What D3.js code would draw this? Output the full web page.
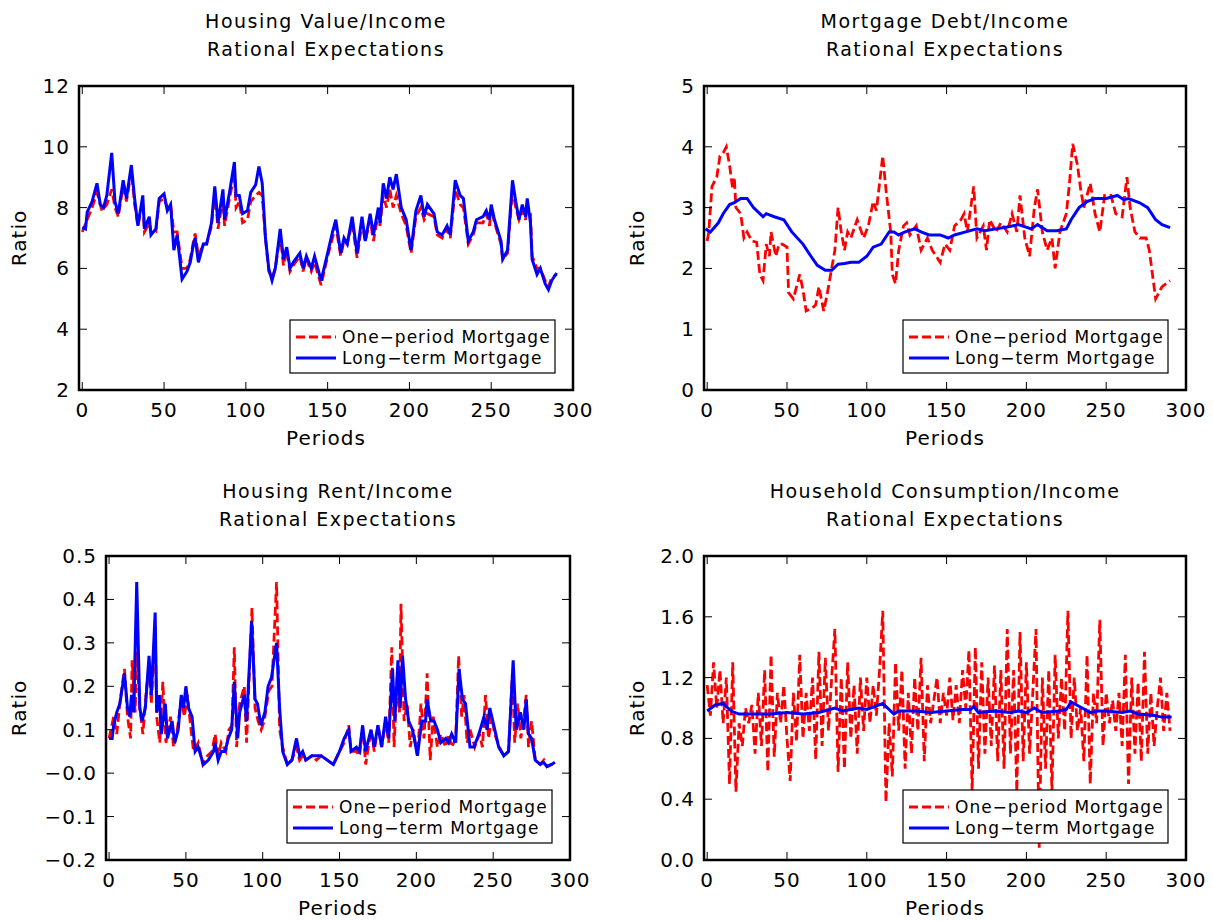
<!DOCTYPE html>
<html>
<head>
<meta charset="utf-8">
<script src="https://cdn.jsdelivr.net/npm/d3@7"></script>
<style>
  body { margin: 0; background: #fff; }
  text { font-family: "DejaVu Sans", sans-serif; fill: #000; }
</style>
</head>
<body>
<svg id="chart" width="1213" height="921"></svg>
<script>
// Housing value / income
var valueOne = [[0,7.2],[3,7.6],[6,8.0],[9,8.5],[12,7.9],[15,8.1],[18,8.6],[20,8.0],[22,7.7],[25,8.7],[27,8.2],[30,9.2],[32,8.1],[34,7.4],[37,8.2],[38,7.2],[41,7.5],[42,7.2],[45,7.2],[47,8.2],[50,8.3],[52,8.0],[54,8.1],[56,7.2],[58,7.2],[61,6.0],[64,6.0],[66,6.3],[68,6.9],[69,7.15],[71,6.4],[74,6.8],[76,6.8],[79,7.4],[81,8.5],[83,7.3],[86,8.3],[87,7.4],[90,8.3],[93,9.1],[94,8.0],[96,8.2],[98,7.5],[101,7.6],[103,8.2],[106,8.4],[108,8.5],[110,8.4],[112,7.0],[114,5.9],[116,5.7],[118,6.0],[121,7.1],[123,6.1],[125,6.6],[127,5.9],[129,6.1],[133,6.4],[135,5.9],[137,6.3],[140,5.9],[142,6.2],[146,5.45],[150,6.4],[153,7.0],[155,7.4],[158,6.4],[160,6.9],[162,6.8],[165,7.5],[168,6.35],[171,7.5],[173,6.9],[176,7.6],[178,6.9],[181,7.8],[182,7.4],[184,8.4],[186,8.0],[188,8.6],[190,8.0],[192,8.4],[195,7.8],[198,7.4],[201,6.5],[204,7.7],[207,8.0],[209,7.6],[211,7.8],[215,7.7],[217,7.1],[220,7.0],[223,7.3],[225,7.0],[228,8.6],[231,8.1],[233,8.0],[236,6.8],[239,7.1],[241,7.5],[245,7.5],[247,7.8],[249,7.4],[250,8.0],[252,7.5],[256,6.8],[257,6.3],[260,6.5],[263,8.6],[265,8.0],[267,7.6],[269,7.9],[271,7.6],[272,8.1],[274,7.8],[275,6.4],[278,6.0],[280,6.0],[283,5.6],[285,5.4],[287,5.7],[290,5.8]];
var valueLong = [[0,7.35],[2,7.3],[3,7.85],[6,8.2],[9,8.8],[11,8.1],[13,8.0],[15,8.4],[18,9.8],[20,8.2],[22,7.8],[25,8.9],[27,8.3],[30,9.4],[32,8.3],[34,7.4],[37,8.4],[38,7.3],[41,7.7],[42,7.1],[45,7.3],[47,8.3],[50,8.45],[52,7.9],[54,8.1],[56,6.6],[58,7.1],[61,5.65],[64,5.9],[66,6.2],[68,6.8],[69,7.0],[71,6.2],[74,6.8],[76,6.8],[79,7.5],[81,8.7],[83,7.5],[86,8.6],[87,7.6],[90,8.5],[93,9.5],[94,8.4],[96,8.4],[98,7.8],[101,7.9],[103,8.5],[106,8.75],[108,9.35],[110,8.8],[112,7.0],[114,6.0],[116,5.6],[118,6.0],[121,7.3],[123,6.3],[125,6.7],[127,6.0],[129,6.2],[133,6.5],[135,6.0],[137,6.4],[140,6.0],[142,6.4],[146,5.6],[150,6.5],[153,7.2],[155,7.6],[158,6.5],[160,7.0],[162,6.8],[165,7.7],[168,6.5],[171,7.7],[173,6.9],[176,7.8],[178,7.1],[181,8.0],[182,7.5],[184,8.8],[186,8.3],[188,9.0],[190,8.6],[192,9.1],[195,8.0],[198,7.6],[201,6.6],[204,7.9],[207,8.4],[209,7.7],[211,8.1],[215,7.8],[217,7.2],[220,7.1],[223,7.4],[225,7.1],[228,8.9],[231,8.4],[233,8.3],[236,6.9],[239,7.2],[241,7.6],[245,7.7],[247,7.9],[249,7.6],[250,8.1],[252,7.6],[256,6.9],[257,6.3],[260,6.6],[263,8.9],[265,8.2],[267,7.6],[269,8.1],[271,7.7],[272,8.3],[274,7.5],[275,6.3],[278,5.8],[280,6.0],[283,5.5],[285,5.3],[287,5.6],[290,5.85]];

// Mortgage debt / income
var debtOne = [[0,2.45],[1,2.6],[3,3.35],[6,3.5],[8,3.85],[10,3.9],[12,4.0],[14,3.7],[16,3.3],[17,3.5],[18,3.0],[21,2.9],[23,2.5],[25,2.6],[28,2.45],[31,2.43],[33,1.9],[35,1.8],[37,2.4],[39,2.2],[40,2.6],[43,2.2],[45,2.4],[47,2.4],[50,2.35],[51,1.6],[54,1.5],[58,1.9],[60,1.65],[62,1.3],[66,1.35],[68,1.4],[70,1.7],[73,1.3],[75,1.55],[78,2.0],[80,2.3],[82,3.0],[84,2.6],[86,2.3],[88,2.6],[90,2.5],[94,2.8],[96,2.65],[98,2.5],[101,2.7],[104,3.1],[106,2.95],[110,3.85],[112,3.3],[115,2.6],[116,1.9],[118,1.75],[120,2.3],[123,2.7],[125,2.75],[127,2.55],[131,2.7],[134,2.3],[138,2.5],[141,2.3],[146,2.1],[149,2.4],[152,2.3],[155,2.7],[159,2.8],[161,2.9],[163,2.6],[167,3.35],[169,2.5],[173,2.7],[175,2.3],[177,2.8],[181,2.6],[184,2.75],[188,2.6],[191,2.9],[194,2.6],[196,3.2],[199,2.5],[202,2.2],[205,3.0],[207,3.3],[210,2.6],[213,2.3],[216,2.5],[218,2.0],[221,2.6],[225,2.9],[227,3.4],[229,4.05],[232,3.7],[234,3.3],[236,3.0],[240,3.4],[243,2.9],[246,2.6],[249,3.2],[253,3.2],[256,2.9],[260,2.85],[263,3.5],[265,3.0],[268,2.6],[271,2.5],[275,2.5],[277,2.3],[281,1.5],[285,1.7],[290,1.8]];
var debtLong = [[-1,2.65],[2,2.6],[7,2.75],[10,2.9],[14,3.05],[17,3.08],[21,3.15],[25,3.15],[29,3.0],[35,2.85],[37,2.9],[42,2.85],[48,2.8],[53,2.6],[60,2.4],[65,2.2],[69,2.05],[74,1.97],[78,1.97],[82,2.07],[86,2.08],[90,2.1],[95,2.1],[100,2.2],[104,2.35],[109,2.4],[114,2.6],[117,2.6],[120,2.55],[124,2.6],[130,2.65],[134,2.6],[139,2.55],[146,2.55],[151,2.5],[155,2.55],[162,2.6],[169,2.65],[174,2.62],[181,2.65],[188,2.68],[195,2.72],[203,2.65],[207,2.72],[213,2.62],[219,2.62],[225,2.65],[228,2.8],[233,3.0],[238,3.1],[243,3.15],[250,3.15],[257,3.2],[261,3.13],[264,3.15],[271,3.08],[276,3.0],[281,2.8],[285,2.72],[290,2.67]];

// Housing rent / income
var rentOne = [[0,0.08],[3,0.13],[5,0.09],[7,0.16],[10,0.24],[12,0.13],[14,0.08],[15,0.26],[17,0.14],[18,0.28],[20,0.15],[22,0.09],[24,0.18],[26,0.25],[27.5,0.16],[30,0.34],[31,0.13],[33,0.07],[35,0.21],[37,0.07],[40,0.13],[42,0.06],[44,0.09],[47,0.17],[49,0.13],[51,0.18],[53,0.11],[55,0.05],[58,0.07],[61,0.02],[64,0.04],[67,0.05],[69,0.09],[71,0.04],[73,0.07],[76,0.05],[78,0.1],[80,0.11],[81.5,0.29],[83,0.06],[85,0.16],[88,0.2],[89.5,0.07],[93,0.38],[95,0.15],[97,0.12],[99,0.1],[101,0.12],[104,0.19],[106,0.2],[109,0.44],[111,0.1],[113,0.06],[116,0.02],[119,0.03],[122,0.06],[124,0.03],[126,0.04],[128,0.03],[132,0.04],[135,0.03],[138,0.04],[142,0.03],[146,0.02],[150,0.05],[153,0.07],[156,0.11],[157.5,0.05],[161,0.05],[163,0.04],[165,0.11],[167,0.02],[170.5,0.1],[172.6,0.05],[175,0.11],[177.4,0.06],[180,0.12],[182,0.07],[184,0.29],[185.5,0.06],[187.5,0.22],[189,0.14],[190,0.39],[192,0.12],[194,0.16],[196,0.06],[198,0.1],[200.7,0.04],[203,0.16],[205,0.08],[207,0.23],[209,0.03],[211,0.13],[213.7,0.06],[216,0.09],[219,0.06],[221,0.09],[223,0.06],[225.6,0.08],[227.5,0.27],[229.5,0.13],[231,0.18],[233,0.07],[235,0.1],[238,0.06],[241,0.09],[243,0.06],[245,0.18],[247,0.08],[249,0.13],[251,0.09],[254,0.06],[257,0.04],[260,0.05],[262.5,0.23],[264,0.07],[266,0.16],[268,0.08],[270,0.13],[271.5,0.18],[273,0.06],[275,0.12],[277.4,0.03],[280.6,0.02],[283,0.03],[285,0.015],[288,0.02],[290,0.02]];
var rentLong = [[0,0.08],[2,0.08],[3,0.11],[5,0.14],[7,0.16],[10,0.23],[12,0.15],[13.5,0.13],[14.6,0.18],[16,0.14],[18,0.44],[20,0.15],[21.5,0.12],[23.6,0.15],[26,0.27],[27.5,0.18],[30,0.37],[31,0.14],[32.7,0.18],[34,0.09],[36.6,0.16],[38,0.08],[41,0.12],[42.7,0.07],[45,0.1],[47,0.18],[48.5,0.15],[50,0.2],[51.7,0.15],[54,0.13],[56,0.05],[58,0.06],[61.4,0.02],[64.6,0.03],[68,0.05],[69,0.07],[71,0.03],[73,0.05],[75.5,0.05],[77.6,0.08],[79.8,0.1],[81.5,0.21],[83.7,0.08],[85,0.14],[88,0.18],[89.5,0.12],[92.8,0.35],[95,0.17],[96.6,0.16],[98.8,0.11],[101.4,0.14],[103.5,0.2],[105.7,0.22],[109,0.3],[111,0.15],[113,0.05],[116,0.02],[119,0.03],[122,0.08],[124,0.04],[126,0.05],[128,0.03],[132,0.04],[135,0.04],[138,0.04],[142,0.03],[146,0.02],[150,0.05],[153,0.08],[156,0.1],[157.5,0.05],[161,0.06],[163,0.05],[165,0.11],[167,0.05],[170.5,0.1],[172.6,0.06],[175,0.11],[177.4,0.06],[180,0.13],[182,0.08],[184.5,0.24],[186,0.12],[188,0.26],[189.5,0.15],[191,0.27],[193,0.17],[195,0.12],[197.5,0.1],[200.7,0.04],[203.5,0.12],[206,0.12],[207,0.17],[209.4,0.12],[211.5,0.12],[213.7,0.1],[215.9,0.07],[219,0.08],[221,0.07],[223,0.09],[225.6,0.07],[227.8,0.24],[230,0.17],[232,0.16],[234.9,0.06],[237.5,0.06],[240.7,0.09],[244,0.13],[246,0.1],[247.8,0.15],[250.4,0.11],[253.6,0.06],[256.9,0.04],[260,0.05],[263,0.26],[265,0.1],[267.7,0.14],[270,0.1],[271.5,0.17],[273,0.09],[275,0.08],[277.4,0.03],[280.6,0.02],[282.8,0.025],[285,0.015],[288,0.02],[290.2,0.025]];

// Household consumption / income
var consOne = [[0,1.15],[2,0.95],[4,1.3],[6,1.0],[8,1.25],[10,0.9],[12,1.2],[14,0.5],[16,1.3],[18,0.45],[20,0.9],[22,0.75],[24,1.0],[26,0.9],[28,1.02],[30,0.7],[32,1.1],[34,0.75],[36,1.25],[38,0.58],[40,1.35],[42,0.68],[44,1.1],[46,0.9],[48,1.15],[50,0.8],[52,0.52],[54,1.1],[56,0.78],[58,1.35],[60,0.8],[62,1.1],[64,0.85],[66,1.2],[68,0.66],[70,1.37],[72,0.75],[74,1.33],[76,0.85],[78,1.2],[80,1.52],[82,0.58],[84,1.2],[86,0.6],[88,1.3],[90,0.8],[92,1.15],[94,0.7],[96,1.2],[98,0.85],[100,1.2],[102,0.9],[104,1.15],[106,0.95],[108,1.25],[110,1.64],[112,0.38],[114,0.9],[116,0.55],[118,1.3],[120,0.85],[122,1.25],[124,0.6],[126,1.1],[128,0.7],[130,1.2],[132,0.85],[134,1.33],[136,0.65],[138,1.15],[140,0.9],[142,1.05],[144,1.2],[146,0.9],[148,1.1],[150,0.95],[152,1.2],[154,0.92],[156,1.15],[158,0.9],[160,1.25],[162,1.0],[164,1.38],[166,0.45],[168,1.4],[170,0.6],[172,1.3],[174,0.7],[176,1.2],[178,0.75],[180,1.28],[182,0.65],[184,1.25],[186,0.6],[188,1.52],[190,0.7],[192,1.25],[194,0.45],[196,1.5],[198,0.65],[200,1.3],[202,0.7],[204,1.1],[206,1.52],[208,0.08],[210,1.2],[212,0.6],[214,1.25],[216,0.45],[218,1.35],[220,0.8],[222,1.2],[224,0.85],[226,1.64],[228,0.8],[230,1.2],[232,0.85],[234,1.0],[236,0.65],[238,1.35],[240,0.5],[242,1.1],[244,0.9],[246,1.58],[248,0.75],[250,1.1],[252,0.9],[254,1.05],[256,0.85],[258,1.1],[260,0.75],[262,1.35],[264,0.5],[266,1.2],[268,0.7],[270,1.17],[272,0.65],[274,1.37],[276,0.7],[278,1.1],[280,0.75],[282,1.0],[284,1.2],[286,0.85],[288,1.1],[290,0.85]];
var consLong = [[0,0.98],[5,1.02],[10,1.03],[15,0.98],[20,0.96],[30,0.96],[40,0.96],[50,0.97],[60,0.96],[70,0.97],[80,1.0],[85,0.98],[95,1.0],[100,0.99],[105,1.01],[110,1.03],[113,1.0],[117,0.96],[120,0.98],[130,0.98],[140,0.97],[150,0.98],[160,0.99],[165,0.99],[167,1.01],[170,0.97],[180,0.98],[190,0.97],[195,0.98],[200,0.97],[205,1.0],[208,0.98],[210,0.97],[220,0.98],[225,0.99],[228,1.04],[235,1.0],[240,0.97],[245,0.98],[250,0.98],[260,0.97],[265,0.98],[270,0.96],[280,0.95],[285,0.94],[291,0.94]];

var xTicks = [0, 50, 100, 150, 200, 250, 300];
var legendNames = ["One\u2212period Mortgage", "Long\u2212term Mortgage"];

var panels = [
  { title: ["Housing Value/Income", "Rational Expectations"], box: [79, 86, 573, 390], ratioX: 19,
    y: [2, 12], yTicks: [2, 4, 6, 8, 10, 12], fmt: d3.format("d"), one: valueOne, long: valueLong },
  { title: ["Mortgage Debt/Income", "Rational Expectations"], box: [704, 86, 1186, 390], ratioX: 637,
    y: [0, 5], yTicks: [0, 1, 2, 3, 4, 5], fmt: d3.format("d"), one: debtOne, long: debtLong },
  { title: ["Housing Rent/Income", "Rational Expectations"], box: [106, 556, 570, 860], ratioX: 19,
    y: [-0.2, 0.5], yTicks: [-0.2, -0.1, 0, 0.1, 0.2, 0.3, 0.4, 0.5],
    fmt: function(d) { var s = Math.abs(d).toFixed(1); return (d < 0.05 ? "\u2212" : "") + s; }, one: rentOne, long: rentLong },
  { title: ["Household Consumption/Income", "Rational Expectations"], box: [704, 556, 1186, 860], ratioX: 637,
    y: [0, 2], yTicks: [0, 0.4, 0.8, 1.2, 1.6, 2.0], fmt: d3.format(".1f"), one: consOne, long: consLong }
];

var svg = d3.select("#chart");

panels.forEach(function(p) {
  var x0 = p.box[0], y0 = p.box[1], x1 = p.box[2], y1 = p.box[3];
  var x = d3.scaleLinear().domain([-2, 300]).range([x0, x1]);
  var y = d3.scaleLinear().domain(p.y).range([y1, y0]);
  var g = svg.append("g");
  var cx = (x0 + x1) / 2;

  g.selectAll(".title").data(p.title).enter().append("text")
    .attr("x", cx).attr("y", function(d, i) { return y0 - 58 + i * 28; })
    .attr("text-anchor", "middle").style("font-size", "19px").style("letter-spacing", "1.5px")
    .text(function(d) { return d; });

  var line = d3.line().x(function(d) { return x(d[0]); }).y(function(d) { return y(d[1]); });
  var clipId = "clip" + x0 + y0;
  g.append("clipPath").attr("id", clipId).append("rect")
    .attr("x", x0).attr("y", y0).attr("width", x1 - x0).attr("height", y1 - y0);

  g.append("path").datum(p.one).attr("d", line).attr("clip-path", "url(#" + clipId + ")")
    .attr("fill", "none").attr("stroke", "#ff0000").attr("stroke-width", 2.8)
    .attr("stroke-dasharray", "9,4");
  g.append("path").datum(p.long).attr("d", line).attr("clip-path", "url(#" + clipId + ")")
    .attr("fill", "none").attr("stroke", "#0000ff").attr("stroke-width", 3);

  // ticks, inward on all four sides
  var t = 8;
  xTicks.forEach(function(v) {
    g.append("line").attr("x1", x(v)).attr("x2", x(v)).attr("y1", y1).attr("y2", y1 - t).attr("stroke", "#000");
    g.append("line").attr("x1", x(v)).attr("x2", x(v)).attr("y1", y0).attr("y2", y0 + t).attr("stroke", "#000");
    g.append("text").attr("x", x(v)).attr("y", y1 + 27).attr("text-anchor", "middle")
      .style("font-size", "20px").style("letter-spacing", "1px").text(v);
  });
  p.yTicks.forEach(function(v) {
    g.append("line").attr("x1", x0).attr("x2", x0 + t).attr("y1", y(v)).attr("y2", y(v)).attr("stroke", "#000");
    g.append("line").attr("x1", x1).attr("x2", x1 - t).attr("y1", y(v)).attr("y2", y(v)).attr("stroke", "#000");
    g.append("text").attr("x", x0 - 9).attr("y", y(v) + 7).attr("text-anchor", "end")
      .style("font-size", "20px").style("letter-spacing", "1px").text(p.fmt(v));
  });

  g.append("rect").attr("x", x0).attr("y", y0).attr("width", x1 - x0).attr("height", y1 - y0)
    .attr("fill", "none").attr("stroke", "#000").attr("stroke-width", 2.5);

  g.append("text").attr("x", cx).attr("y", y1 + 55).attr("text-anchor", "middle")
    .style("font-size", "20px").style("letter-spacing", "1px").text("Periods");
  g.append("text").attr("transform", "translate(" + (p.ratioX + 7) + "," + ((y0 + y1) / 2) + ") rotate(-90)")
    .attr("text-anchor", "middle").style("font-size", "20px").style("letter-spacing", "1px").text("Ratio");

  // legend
  var lx1 = x1 - 18, lx0 = lx1 - 265, ly0 = y1 - 70, ly1 = y1 - 17;
  g.append("rect").attr("x", lx0).attr("y", ly0).attr("width", lx1 - lx0).attr("height", ly1 - ly0)
    .attr("fill", "#fff").attr("stroke", "#000").attr("stroke-width", 1.2);
  [["#ff0000", "9,4", 2.8], ["#0000ff", null, 3]].forEach(function(s, i) {
    var ly = ly0 + 17 + i * 21;
    g.append("line").attr("x1", lx0 + 6).attr("x2", lx0 + 46).attr("y1", ly).attr("y2", ly)
      .attr("stroke", s[0]).attr("stroke-width", s[2]).attr("stroke-dasharray", s[1]);
    g.append("text").attr("x", lx0 + 52).attr("y", ly + 6).style("font-size", "17px")
      .style("letter-spacing", "1px").text(legendNames[i]);
  });
});
</script>
</body>
</html>
